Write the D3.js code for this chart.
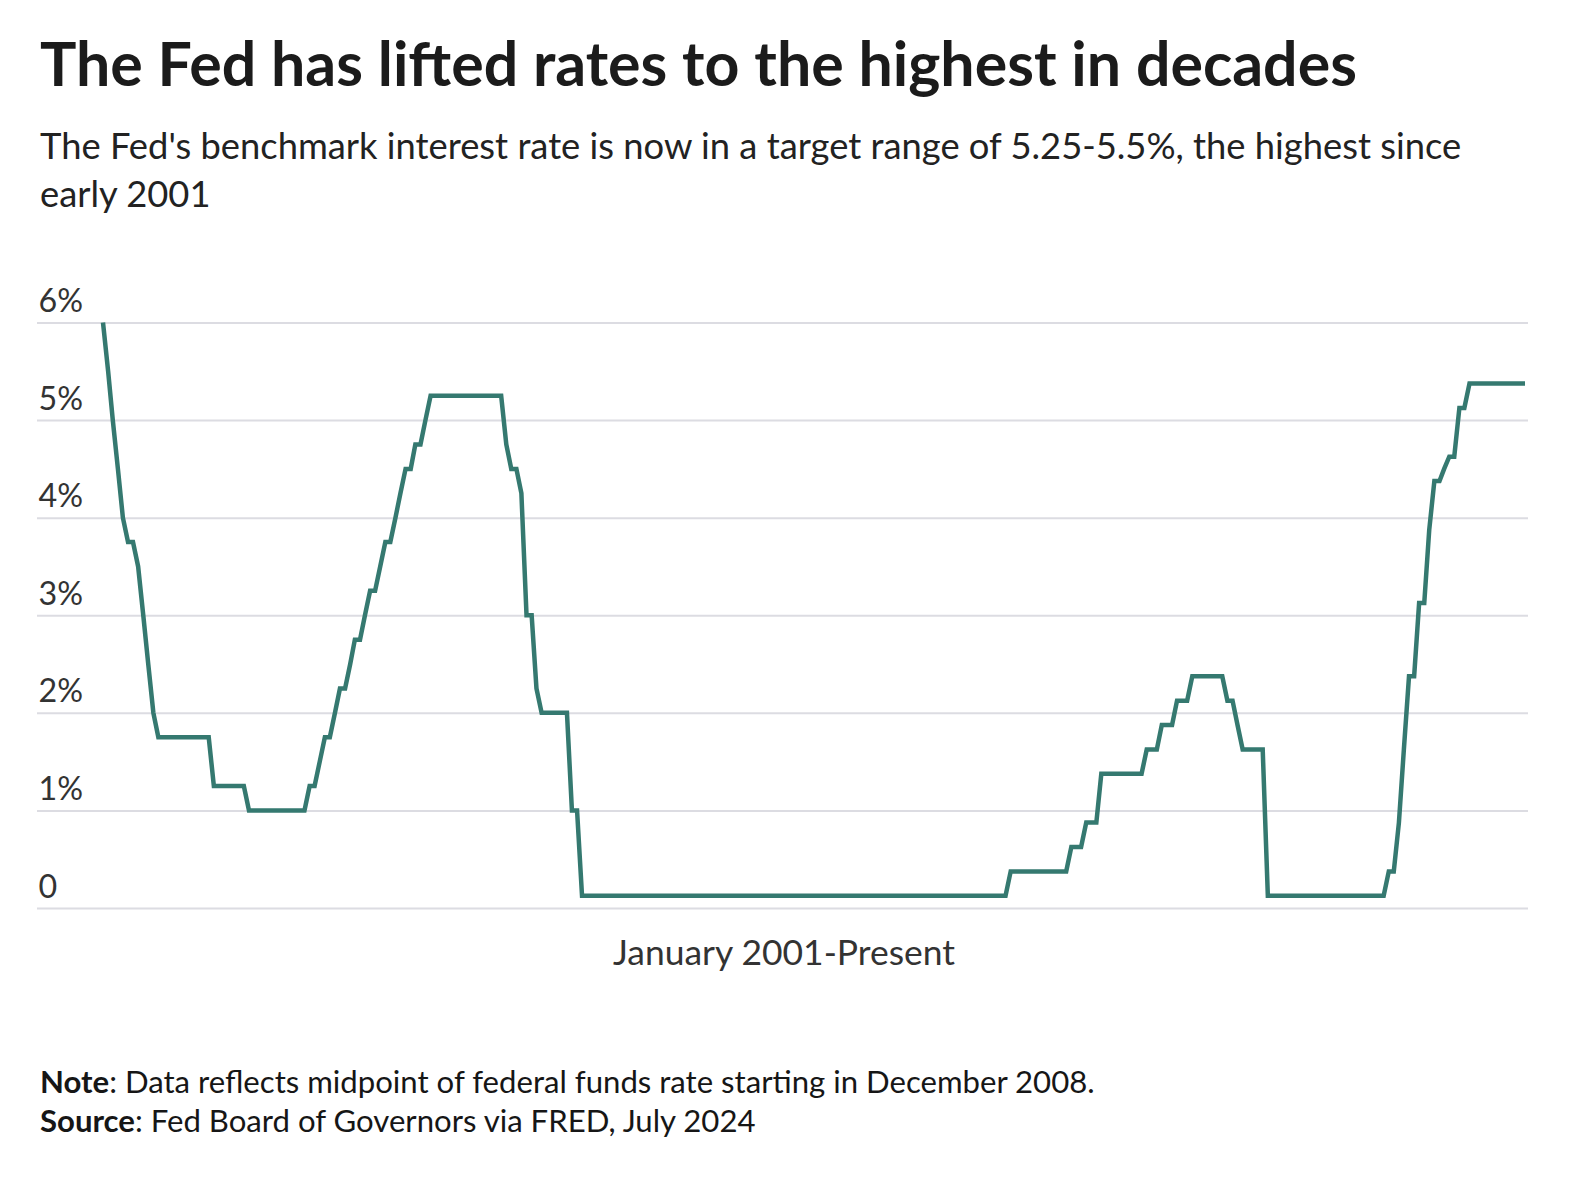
<!DOCTYPE html>
<html>
<head>
<meta charset="utf-8">
<script src="https://cdn.jsdelivr.net/npm/d3@7"></script>
<style>
  html, body { margin: 0; padding: 0; background: #ffffff; }
  svg { display: block; }
  text { font-family: Lato, "Noto Sans", sans-serif; }
</style>
</head>
<body>
<svg id="chart" width="1580" height="1178"></svg>
<script>
// ---- Data (corner points of the monthly series) ----
const months = [
  "2001-01","2001-02","2001-03","2001-04","2001-05","2001-06","2001-07","2001-08","2001-09","2001-10","2001-11","2001-12",
  "2002-10","2002-11","2003-05","2003-06","2004-05","2004-06","2004-07","2004-08","2004-09","2004-10","2004-11","2004-12",
  "2005-01","2005-02","2005-03","2005-04","2005-05","2005-06","2005-07","2005-08","2005-09","2005-10","2005-11","2005-12",
  "2006-01","2006-02","2006-03","2006-04","2006-05","2006-06","2007-08","2007-09","2007-10","2007-11","2007-12",
  "2008-01","2008-02","2008-03","2008-04","2008-09","2008-10","2008-11","2008-12",
  "2015-12","2016-01","2016-12","2017-01","2017-03","2017-04","2017-06","2017-07",
  "2018-03","2018-04","2018-06","2018-07","2018-09","2018-10","2018-12","2019-01",
  "2019-07","2019-08","2019-09","2019-10","2019-11","2020-03","2020-04",
  "2022-03","2022-04","2022-05","2022-06","2022-07","2022-08","2022-09","2022-10","2022-11","2022-12",
  "2023-01","2023-02","2023-03","2023-04","2023-05","2023-06","2023-07","2023-08","2024-07"
];
const rates = [
  6.0, 5.5, 5.0, 4.5, 4.0, 3.75, 3.75, 3.5, 3.0, 2.5, 2.0, 1.75,
  1.75, 1.25, 1.25, 1.0, 1.0, 1.25, 1.25, 1.5, 1.75, 1.75, 2.0, 2.25,
  2.25, 2.5, 2.75, 2.75, 3.0, 3.25, 3.25, 3.5, 3.75, 3.75, 4.0, 4.25,
  4.5, 4.5, 4.75, 4.75, 5.0, 5.25, 5.25, 4.75, 4.5, 4.5, 4.25,
  3.0, 3.0, 2.25, 2.0, 2.0, 1.0, 1.0, 0.125,
  0.125, 0.375, 0.375, 0.625, 0.625, 0.875, 0.875, 1.375,
  1.375, 1.625, 1.625, 1.875, 1.875, 2.125, 2.125, 2.375,
  2.375, 2.125, 2.125, 1.875, 1.625, 1.625, 0.125,
  0.125, 0.375, 0.375, 0.875, 1.625, 2.375, 2.375, 3.125, 3.125, 3.875,
  4.375, 4.375, 4.5, 4.625, 4.625, 5.125, 5.125, 5.375, 5.375
];
const yTicks = [0, 1, 2, 3, 4, 5, 6];
const yTickLabels = ["0", "1%", "2%", "3%", "4%", "5%", "6%"];
const xDomain = ["2001-01", "2024-07"];

const titleText = "The Fed has lifted rates to the highest in decades";
const subtitleLines = [
  "The Fed's benchmark interest rate is now in a target range of 5.25-5.5%, the highest since",
  "early 2001"
];
const xAxisLabel = "January 2001-Present";
const noteLabel = "Note";
const noteText = ": Data reflects midpoint of federal funds rate starting in December 2008.";
const sourceLabel = "Source";
const sourceText = ": Fed Board of Governors via FRED, July 2024";

// ---- Drawing ----
const parse = d3.timeParse("%Y-%m");
const data = months.map((m, i) => ({ date: parse(m), value: rates[i] }));

const svg = d3.select("#chart");
svg.append("rect").attr("width", 1580).attr("height", 1178).attr("fill", "#ffffff");

const gridLeft = 37, gridRight = 1528;
const x = d3.scaleTime().domain(xDomain.map(parse)).range([103, 1525]);
const y = d3.scaleLinear().domain([0, 6]).range([908, 322.5]);

function fitWidth(sel, target) {
  sel.style("font-size", "100px");
  const w = sel.node().getComputedTextLength();
  const size = 100 * target / w;
  sel.style("font-size", size.toFixed(2) + "px");
  return size;
}

// Title
const title = svg.append("text")
  .attr("x", 40).attr("y", 86)
  .attr("fill", "#1b1b1b")
  .style("font-weight", 700)
  .text(titleText);
fitWidth(title, 1317);

// Subtitle
const subBaselines = [159, 206.5];
let subSize = 31;
subtitleLines.forEach((line, i) => {
  const t = svg.append("text")
    .attr("x", 40).attr("y", subBaselines[i])
    .attr("fill", "#222222")
    .style("font-size", subSize + "px")
    .text(line);
  if (i === 0) subSize = fitWidth(t, 1422);
});

// Y axis with gridlines
const yAxis = d3.axisRight(y)
  .tickValues(yTicks)
  .tickSize(gridRight - gridLeft)
  .tickFormat((d, i) => yTickLabels[i]);

const gy = svg.append("g")
  .attr("transform", `translate(${gridLeft},0)`)
  .call(yAxis);
gy.select(".domain").remove();
gy.selectAll(".tick line")
  .attr("stroke", "#dcdce2")
  .attr("stroke-width", 2);
const tickTexts = gy.selectAll(".tick text")
  .attr("x", 1.5)
  .attr("y", -11)
  .attr("dy", 0)
  .attr("text-anchor", "start")
  .attr("fill", "#333333")
  .style("font-family", "Lato, 'Noto Sans', sans-serif");
// size tick labels so that "6%" matches the reference width
const sixLabel = tickTexts.filter((d) => d === 6);
const tickSize = fitWidth(sixLabel, 44.5);
tickTexts.style("font-size", tickSize.toFixed(2) + "px");

// Line
const line = d3.line()
  .x(d => x(d.date))
  .y(d => y(d.value));

svg.append("path")
  .datum(data)
  .attr("d", line)
  .attr("fill", "none")
  .attr("stroke", "#357970")
  .attr("stroke-width", 4.5)
  .attr("stroke-linejoin", "miter")
  .attr("stroke-miterlimit", 4)
  .attr("stroke-linecap", "butt");

// X axis label
const xl = svg.append("text")
  .attr("x", 784).attr("y", 965)
  .attr("text-anchor", "middle")
  .attr("fill", "#333333")
  .text(xAxisLabel);
fitWidth(xl, 342);

// Note and source
const note = svg.append("text")
  .attr("x", 40).attr("y", 1093)
  .attr("fill", "#161616")
  .style("font-size", "26px");
note.append("tspan").style("font-weight", 700).text(noteLabel);
note.append("tspan").text(noteText);
const noteSize = fitWidth(note, 1055);

const source = svg.append("text")
  .attr("x", 40).attr("y", 1132)
  .attr("fill", "#161616")
  .style("font-size", noteSize.toFixed(2) + "px");
source.append("tspan").style("font-weight", 700).text(sourceLabel);
source.append("tspan").text(sourceText);
</script>
</body>
</html>
